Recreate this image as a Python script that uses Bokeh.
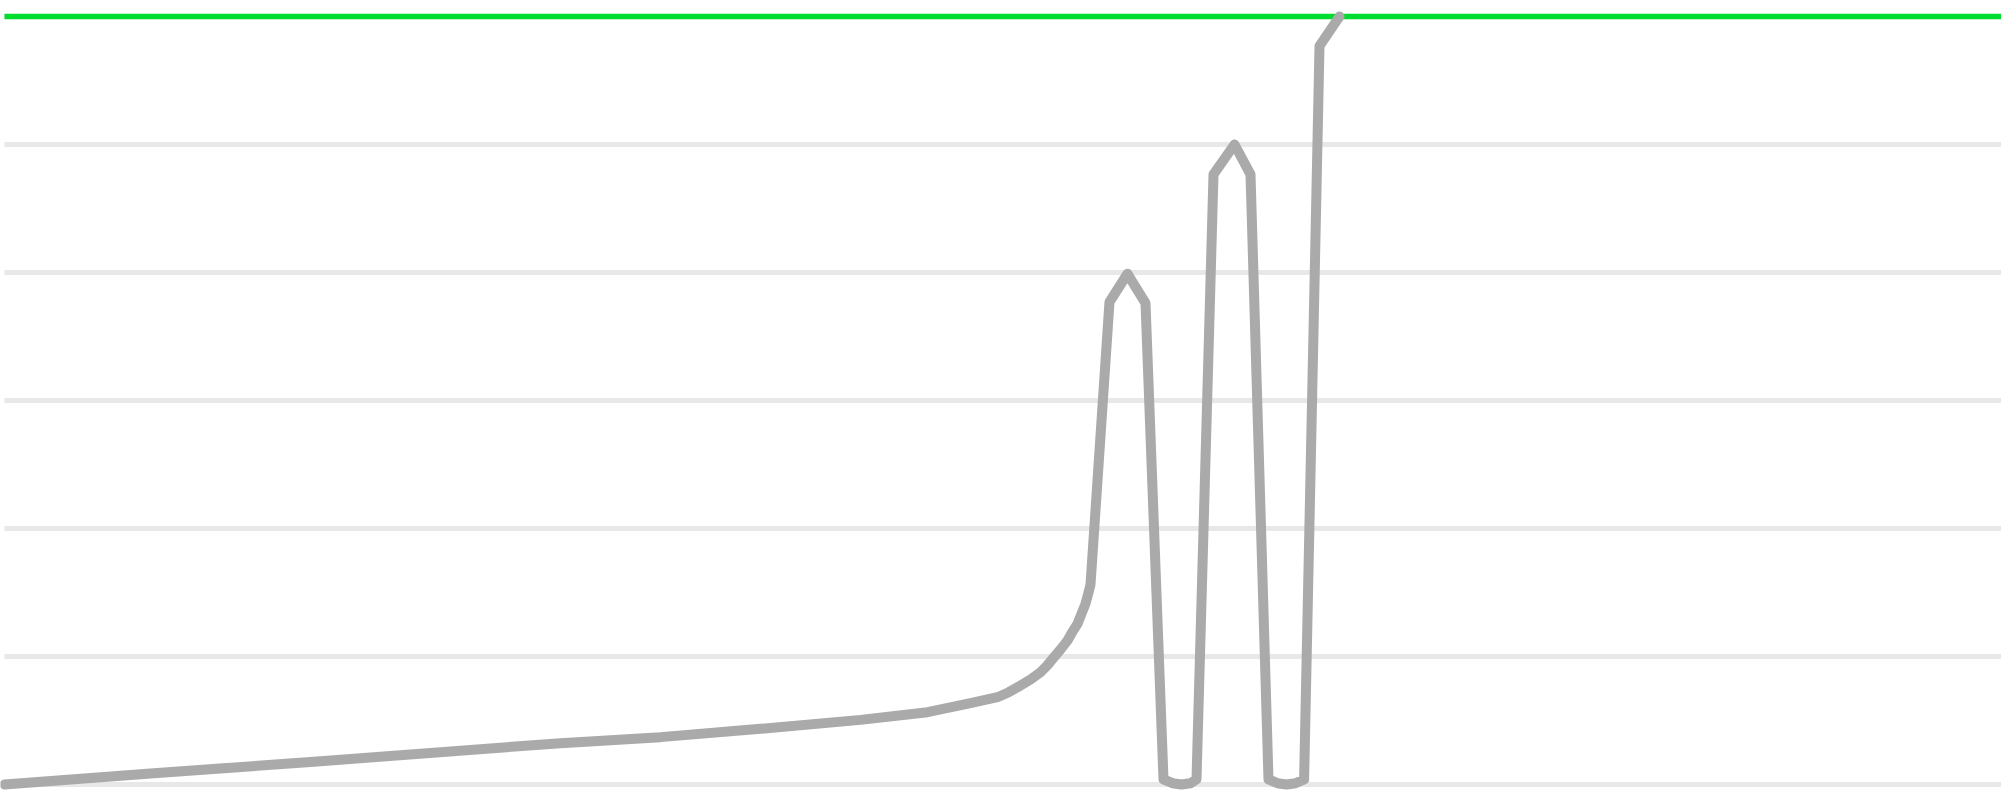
from bokeh.plotting import figure
from bokeh.models import Range1d
from bokeh.embed import file_html
from bokeh.resources import INLINE

# ---- data ----
x_values = [0.0, 7.3, 15.3, 27.8, 32.8, 37.8, 42.8, 46.15, 48.3, 49.65, 50.215, 50.8, 51.3,
            51.8, 52.135, 52.45, 52.8, 53.15, 53.385, 53.65, 53.85, 54.05, 54.185, 54.3,
            55.25, 56.15, 57.05, 57.95, 58.4, 58.85, 59.3, 59.6,
            60.45, 61.5, 62.3, 63.2, 63.65, 64.1, 64.55, 64.98,
            65.75, 66.75]
y_values = [0.0, 0.086, 0.176, 0.323, 0.370, 0.435, 0.505, 0.565, 0.635, 0.682, 0.721, 0.773, 0.820,
            0.877, 0.930, 0.990, 1.055, 1.125, 1.190, 1.255, 1.334, 1.412, 1.490, 1.5625,
            3.77, 3.99, 3.76, 0.04, 0.01, 0.0, 0.01, 0.04,
            4.766, 5.0, 4.766, 0.04, 0.01, 0.0, 0.01, 0.04,
            5.77, 6.0]
target_value = 6.0
grid_levels = [0, 1, 2, 3, 4, 5, 6]

x_end = 99.85
p = figure(width=2001, height=800, output_backend="svg", toolbar_location=None,
           x_range=Range1d(-0.2, x_end), y_range=Range1d(-0.125, 6.125),
           min_border=0, min_border_left=0, min_border_right=0,
           min_border_top=0, min_border_bottom=0)
p.outline_line_color = None
p.background_fill_color = "white"
p.border_fill_color = "white"
p.xaxis.visible = False
p.yaxis.visible = False
p.xgrid.visible = False
p.ygrid.visible = False

# horizontal grid lines
p.segment(x0=[x_values[0]] * len(grid_levels), x1=[x_end] * len(grid_levels),
          y0=grid_levels, y1=grid_levels,
          line_color="#e8e8e8", line_width=5, line_cap="butt")

# target line
p.line(x=[x_values[0], x_end], y=[target_value, target_value],
       line_color="#00dd2f", line_width=5.5, line_cap="butt")

# series line
p.line(x=x_values, y=y_values, line_color="#aaaaaa", line_width=10,
       line_join="round", line_cap="round")

open("out.html", "w").write(file_html(p, INLINE))
